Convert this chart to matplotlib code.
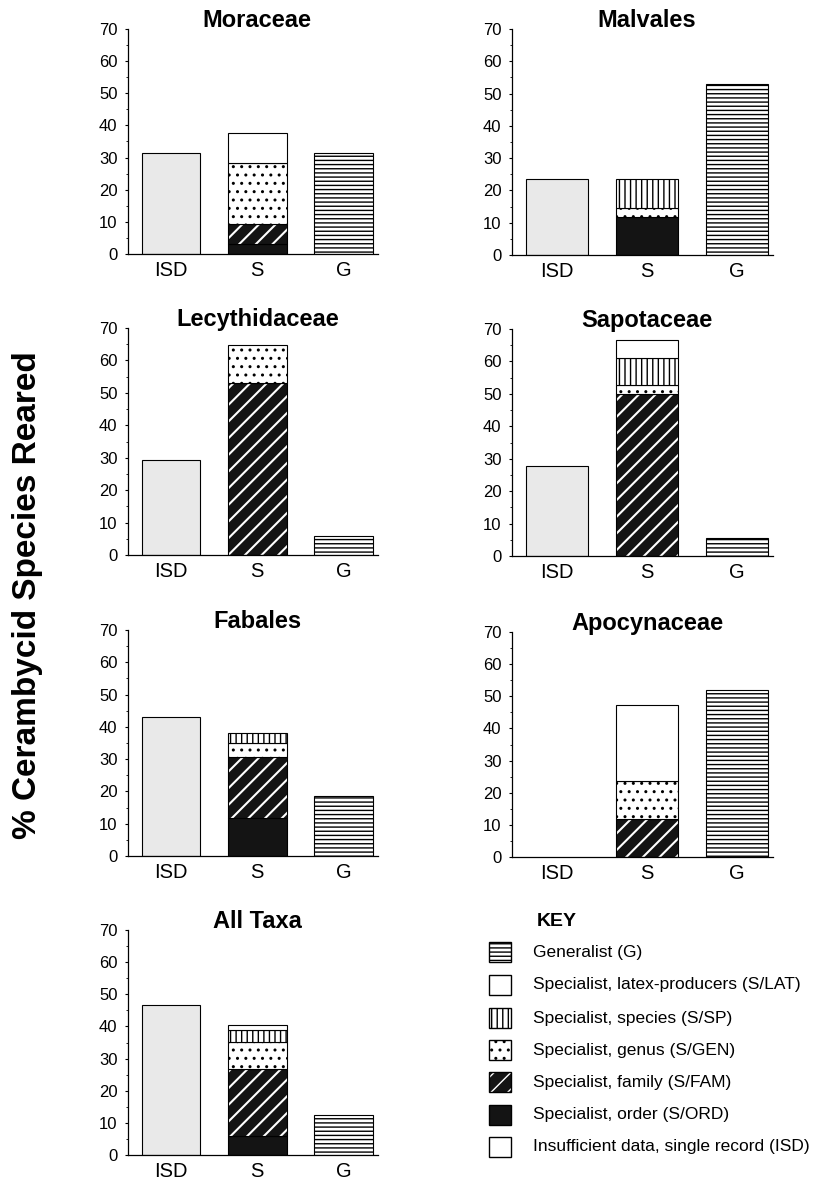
import matplotlib
matplotlib.use('Agg')
import matplotlib.pyplot as plt
from matplotlib.patches import Rectangle
from matplotlib.transforms import blended_transform_factory

plt.rcParams['font.family'] = ['Liberation Sans', 'DejaVu Sans']
plt.rcParams['hatch.linewidth'] = 1.0

# data (percent of cerambycid species reared)
taxa = ['Moraceae', 'Malvales', 'Lecythidaceae', 'Sapotaceae',
        'Fabales', 'Apocynaceae', 'All Taxa']
groups = ['ISD', 'S', 'G']
isd = [31.3, 23.6, 29.4, 27.8, 43.2, 0.0, 46.8]
s_ord = [3.1, 11.8, 0.0, 0.0, 11.7, 0.0, 5.8]
s_fam = [6.3, 0.0, 52.9, 50.0, 19.1, 11.9, 20.9]
s_gen = [18.8, 2.9, 11.8, 2.8, 4.1, 11.8, 8.4]
s_sp = [0.0, 8.8, 0.0, 8.3, 3.3, 0.0, 3.8]
s_lat = [9.4, 0.0, 0.0, 5.6, 0.0, 23.6, 1.7]
gen = [31.3, 52.9, 5.9, 5.6, 18.6, 52.1, 12.6]

key_labels = ['Generalist (G)',
              'Specialist, latex-producers (S/LAT)',
              'Specialist, species (S/SP)',
              'Specialist, genus (S/GEN)',
              'Specialist, family (S/FAM)',
              'Specialist, order (S/ORD)',
              'Insufficient data, single record (ISD)']

# fill styles: face, hatch colour, hatch
STY = {
    'G': ('white', 'black', '----'),
    'LAT': ('white', 'black', None),
    'SP': ('white', 'black', '|||'),
    'GEN': ('white', 'black', '..'),
    'FAM': ('#141414', 'white', '//'),
    'ORD': ('#141414', 'black', None),
    'ISD': ('#e9e9e9', 'black', None),
}

W, H = 830, 1182
fig = plt.figure(figsize=(W / 100, H / 100), dpi=100)


def px_axes(x0, x1, top, bottom):
    return fig.add_axes([x0 / W, 1 - bottom / H, (x1 - x0) / W, (bottom - top) / H])


def white_hatch(ax, x, h, bottom, face, hatch):
    # white stripes on black need the hatch drawn in the edge colour
    with plt.rc_context({'hatch.linewidth': 1.5}):
        bars = ax.bar(x, h, 0.68, bottom=bottom, color=face, edgecolor='white',
                      hatch=hatch, linewidth=0)
    for p in bars:
        if hasattr(p, 'set_hatch_linewidth'):
            p.set_hatch_linewidth(1.5)
    ax.bar(x, h, 0.68, bottom=bottom, fill=False, edgecolor='black', linewidth=0.8)


def draw_bar(ax, x, h, bottom, key):
    if h <= 0:
        return
    face, hc, hatch = STY[key]
    if hc == 'white':
        white_hatch(ax, x, h, bottom, face, hatch)
    else:
        ax.bar(x, h, 0.68, bottom=bottom, color=face, edgecolor='black',
               hatch=hatch, linewidth=0.8)


# panel boxes in pixels (left, right, top, bottom)
boxes = [(128, 378, 29, 254), (512, 773, 29, 255),
         (128, 378, 328, 555), (512, 773, 329, 556),
         (128, 378, 630, 856), (512, 773, 632, 857),
         (128, 378, 930, 1155)]

for i, name in enumerate(taxa):
    ax = px_axes(*boxes[i])
    draw_bar(ax, 0, isd[i], 0, 'ISD')
    b = 0
    for key, vals in [('ORD', s_ord), ('FAM', s_fam), ('GEN', s_gen),
                      ('SP', s_sp), ('LAT', s_lat)]:
        draw_bar(ax, 1, vals[i], b, key)
        b += vals[i]
    draw_bar(ax, 2, gen[i], 0, 'G')

    ax.set_xlim(-0.5, 2.4)
    ax.set_ylim(0, 70)
    ax.set_yticks(range(0, 71, 10))
    ax.set_yticks(range(5, 70, 10), minor=True)
    ax.set_xticks(range(3))
    ax.set_xticklabels(groups)
    for sp in ['top', 'right']:
        ax.spines[sp].set_visible(False)
    for sp in ['left', 'bottom']:
        ax.spines[sp].set_linewidth(0.9)
    ax.tick_params(axis='y', which='major', length=2.5, width=0.8, labelsize=12, pad=5)
    ax.tick_params(axis='y', which='minor', length=1.5, width=0.6)
    ax.tick_params(axis='x', length=0, labelsize=14.5, pad=5)
    tr = blended_transform_factory(ax.transData, ax.transAxes)
    ax.annotate(name, xy=(1, 1), xycoords=tr, xytext=(0, 1.5),
                textcoords='offset points', ha='center', va='baseline',
                fontsize=17, fontweight='bold')

fig.text(28 / W, 1 - 595 / H, '% Cerambycid Species Reared', rotation=90,
         ha='center', va='center', fontsize=24, fontweight='bold')

# key
kax = fig.add_axes([0, 0, 1, 1])
kax.set_xlim(0, W)
kax.set_ylim(H, 0)
kax.axis('off')
kax.text(537, 922, 'KEY', fontsize=14, fontweight='bold', va='center', ha='left')
key_order = ['G', 'LAT', 'SP', 'GEN', 'FAM', 'ORD', 'ISD']
rows = [952, 985, 1018, 1050, 1082, 1115, 1147]
for key, lab, y in zip(key_order, key_labels, rows):
    face, hc, hatch = STY[key]
    if key == 'ISD':
        face = 'white'
    if hc == 'white':
        kax.add_patch(Rectangle((489, y - 10), 22, 20, facecolor=face,
                                edgecolor='white', hatch=hatch, linewidth=0))
        kax.add_patch(Rectangle((489, y - 10), 22, 20, fill=False,
                                edgecolor='black', linewidth=1.0))
    else:
        kax.add_patch(Rectangle((489, y - 10), 22, 20, facecolor=face,
                                edgecolor='black', hatch=hatch, linewidth=1.0))
    kax.text(533, y, lab, fontsize=12.5, va='center', ha='left')

fig.savefig('out.png', dpi=100)
